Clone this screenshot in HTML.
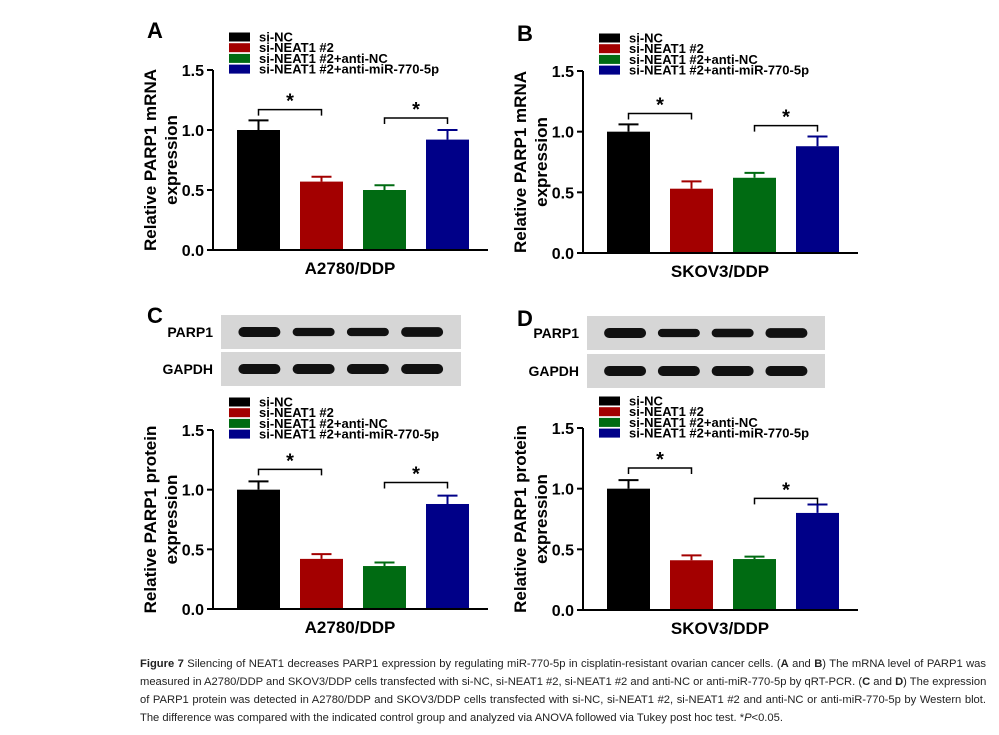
<!DOCTYPE html>
<html><head><meta charset="utf-8"><style>
html,body{margin:0;padding:0;background:#fff;}
body{width:999px;height:735px;position:relative;overflow:hidden;font-family:"Liberation Sans",sans-serif;}
#cap{position:absolute;left:140px;top:655px;width:846px;font-size:11.2px;line-height:18px;color:#222;font-family:"Liberation Sans",sans-serif;}
#cap div{white-space:nowrap;text-align:justify;text-align-last:justify;overflow:hidden;height:18px}
#cap div.last{text-align-last:left}
</style></head><body>
<svg id="fig" width="999" height="650" style="position:absolute;left:0;top:0" xmlns="http://www.w3.org/2000/svg"></svg>
<div id="cap">
<div><b>Figure 7</b> Silencing of NEAT1 decreases PARP1 expression by regulating miR-770-5p in cisplatin-resistant ovarian cancer cells. (<b>A</b> and <b>B</b>) The mRNA level of PARP1 was</div>
<div>measured in A2780/DDP and SKOV3/DDP cells transfected with si-NC, si-NEAT1 #2, si-NEAT1 #2 and anti-NC or anti-miR-770-5p by qRT-PCR. (<b>C</b> and <b>D</b>) The expression</div>
<div>of PARP1 protein was detected in A2780/DDP and SKOV3/DDP cells transfected with si-NC, si-NEAT1 #2, si-NEAT1 #2 and anti-NC or anti-miR-770-5p by Western blot.</div>
<div class="last">The difference was compared with the indicated control group and analyzed via ANOVA followed via Tukey post hoc test. *<i>P</i>&lt;0.05.</div>
</div>
<script>
const groups = ["si-NC","si-NEAT1 #2","si-NEAT1 #2+anti-NC","si-NEAT1 #2+anti-miR-770-5p"];
const colors = ["#000000","#a30000","#006b12","#000088"];
const yTicks = [0.0,0.5,1.0,1.5];
const yTickLabels = ["0.0","0.5","1.0","1.5"];
const valuesA = [1.00,0.57,0.50,0.92];
const errorsA = [0.08,0.04,0.04,0.08];
const valuesB = [1.00,0.53,0.62,0.88];
const errorsB = [0.06,0.06,0.04,0.08];
const valuesC = [1.00,0.42,0.36,0.88];
const errorsC = [0.07,0.04,0.03,0.07];
const valuesD = [1.00,0.41,0.42,0.80];
const errorsD = [0.07,0.04,0.02,0.07];
const sigA = [1.17,1.10];
const sigB = [1.15,1.05];
const sigC = [1.17,1.06];
const sigD = [1.17,0.92];
const NS="http://www.w3.org/2000/svg";
const svg=document.getElementById('fig');
function mk(tag,attrs,parent,text){const e=document.createElementNS(NS,tag);for(const k in attrs)e.setAttribute(k,attrs[k]);if(text!==undefined)e.textContent=text;(parent||svg).appendChild(e);return e;}
function panel(o){
  const g=mk('g',{});
  
  
  const y=v=>o.y0-(v/1.5)*(o.y0-o.y15);
  const bw=43, step=63, bx=i=>o.ax+24+i*step;
  const L=mk('text',{x:o.ax-66,y:o.letterY,'font-size':22,'font-weight':'bold'},g,o.letter);
  
  
  groups.forEach((gname,i)=>{
    const ly=o.legY+i*10.7;
    const r=mk('rect',{x:o.ax+16,y:ly-4.5,width:21,height:9,fill:colors[i]},g);
    
    
    const t=mk('text',{x:o.ax+46,y:ly+4.5,'font-size':13,'font-weight':'bold'},g,gname);
    
    
  });
  o.vals.forEach((v,i)=>{
    const x=bx(i);
    const r=mk('rect',{x:x,y:y(v),width:bw,height:o.y0-y(v),fill:colors[i]},g);
    
    
    const cx=x+bw/2, ty=y(v+o.errs[i]);
    const e=mk('path',{d:`M${cx},${y(v)}V${ty}M${cx-10},${ty}H${cx+10}`,stroke:colors[i],'stroke-width':2,fill:'none'},g);
    
    
  });
  [[0,1],[2,3]].forEach((p,k)=>{
    const x1=bx(p[0])+bw/2,x2=bx(p[1])+bw/2,yy=y(o.sig[k]);
    const b=mk('path',{d:`M${x1},${yy+6}V${yy}H${x2}V${yy+6}`,stroke:'#000','stroke-width':1.5,fill:'none'},g);
    
    
    const s=mk('text',{x:(x1+x2)/2,y:yy-2,'font-size':20,'font-weight':'bold','text-anchor':'middle'},g,'*');
    
    
  });
  const ax=mk('path',{d:`M${o.ax},${o.y15}V${o.y0}H${o.ax+275}`,stroke:'#000','stroke-width':2,fill:'none'},g);
  
  
  yTicks.forEach((t,i)=>{
    const tk=mk('path',{d:`M${o.ax-6},${y(t)}H${o.ax}`,stroke:'#000','stroke-width':2},g);
    
    
    const tl=mk('text',{x:o.ax-9,y:y(t)+6,'font-size':16,'font-weight':'bold','text-anchor':'end'},g,yTickLabels[i]);
    
    
  });
  const yc=(o.y0+o.y15)/2;
  const t1=mk('text',{x:0,y:0,'font-size':17,'font-weight':'bold','text-anchor':'middle',transform:`translate(${o.ax-57},${yc}) rotate(-90)`},g,o.ytitle1);
  
  
  const t2=mk('text',{x:0,y:0,'font-size':17,'font-weight':'bold','text-anchor':'middle',transform:`translate(${o.ax-36},${yc}) rotate(-90)`},g,'expression');
  
  
  const xt=mk('text',{x:o.ax+137,y:o.y0+24,'font-size':17,'font-weight':'bold','text-anchor':'middle'},g,o.xtitle);
  
  
}
function blot(o,strengths){
  const g=mk('g',{});
  
  
  [['PARP1',o.y1,strengths],['GAPDH',o.y2,[1,1,1,1]]].forEach(row=>{
    const r=mk('rect',{x:o.x,y:row[1],width:o.w,height:34,fill:'#d6d6d6'},g);
    
    
    const t=mk('text',{x:o.x-8,y:row[1]+22,'font-size':14,'font-weight':'bold','text-anchor':'end'},g,row[0]);
    
    
    for(let i=0;i<4;i++){
      const cx=o.x+o.w*(0.16+i*0.226), h=4+6*row[2][i];
      const b=mk('rect',{x:cx-21,y:row[1]+17-h/2,width:42,height:h,rx:h/2,fill:'#111'},g);
      
      
    }
  });
}
panel({letter:'A',ax:213,y0:250,y15:70,letterY:38,legY:37,vals:valuesA,errs:errorsA,sig:sigA,ytitle1:'Relative  PARP1 mRNA',xtitle:'A2780/DDP'});
panel({letter:'B',ax:583,y0:253,y15:71,letterY:41,legY:38,vals:valuesB,errs:errorsB,sig:sigB,ytitle1:'Relative  PARP1 mRNA',xtitle:'SKOV3/DDP'});
panel({letter:'C',ax:213,y0:609,y15:430,letterY:323,legY:402,vals:valuesC,errs:errorsC,sig:sigC,ytitle1:'Relative PARP1 protein',xtitle:'A2780/DDP'});
panel({letter:'D',ax:583,y0:610,y15:428,letterY:326,legY:401,vals:valuesD,errs:errorsD,sig:sigD,ytitle1:'Relative PARP1 protein',xtitle:'SKOV3/DDP'});
blot({x:221,w:240,y1:315,y2:352},[1,0.7,0.7,0.95]);
blot({x:587,w:238,y1:316,y2:354},[1,0.7,0.75,0.95]);
</script>
</body></html>
